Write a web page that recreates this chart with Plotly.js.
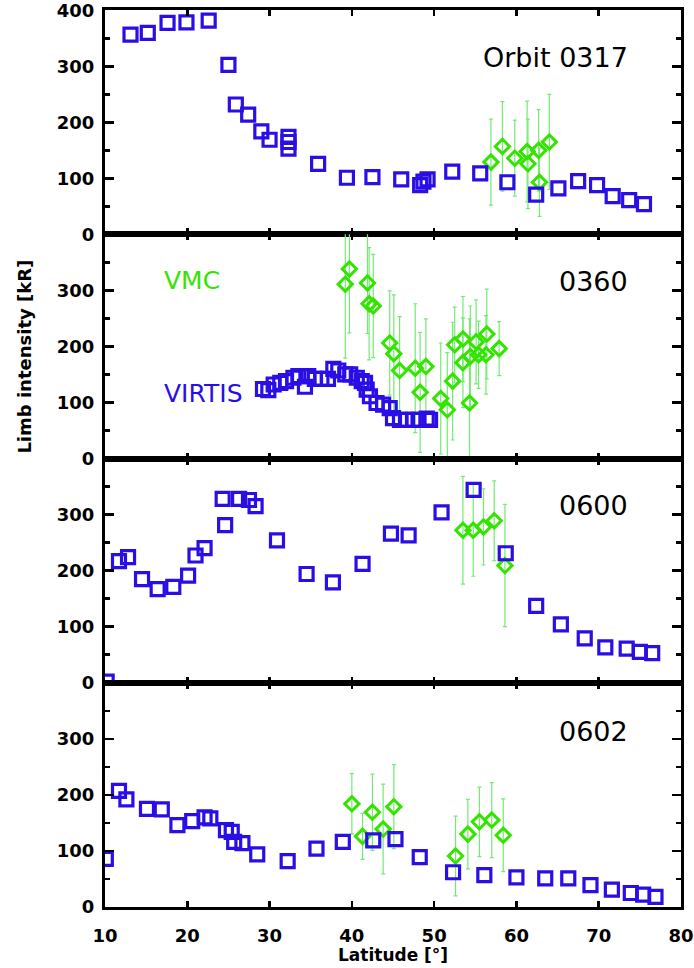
<!DOCTYPE html>
<html>
<head>
<meta charset="utf-8">
<script src="https://cdn.plot.ly/plotly-3.0.1.min.js"></script>
<style>html,body{margin:0;padding:0;background:#fff;}#chart{width:694px;height:968px;}</style>
</head>
<body>
<div id="chart"></div>
<script>
// ---- Orbit 0317 ----
const virtisLat0317 = [13.1,15.2,17.6,19.9,22.6,25.0,25.9,27.4,29.0,30.0,32.3,32.3,32.3,35.9,39.4,42.5,46.0,48.3,48.7,49.2,52.2,55.6,58.9,62.4,65.1,67.5,69.8,71.7,73.7,75.5];
const virtisVal0317 = [357,360,378,379,382,303,232,214,184,169,174,165,153,126,101,102,98,88,94,98,112,109,93,71,82,95,88,68,61,54];
const vmcLat0317 = [56.9,58.3,59.8,61.3,61.4,62.7,62.8,64.0];
const vmcVal0317 = [129,157,136,148,126,150,93,165];
const vmcErr0317 = [77,80,68,90,80,73,61,85];

// ---- Orbit 0360 ----
const virtisLat0360 = [29.2,29.85,30.5,31.3,32.0,32.9,33.5,34.3,34.7,35.5,36.3,37.1,37.75,38.35,39.2,39.8,40.6,41.2,41.6,41.8,42.2,43.0,43.8,44.6,45.0,45.85,46.7,47.5,48.1,49.1,49.5];
const virtisVal0360 = [124,122,132,135,138,144,147,128,147,142,142,142,160,157,150,150,144,138,135,123,111,99,96,90,72,69,69,69,69,71,69];
const vmcLat0360 = [39.2,39.7,41.9,42.1,42.6,44.6,45.1,45.8,47.7,48.3,49.0,50.8,51.6,52.25,52.5,53.5,53.5,54.3,54.4,55.1,55.4,56.4,56.3,57.9];
const vmcVal0360 = [311,338,313,276,272,206,187,157,161,118,164,107,87,138,203,213,171,99,182,208,185,222,185,196];
const vmcErr0360 = [132,114,90,100,92,93,105,96,115,107,85,99,102,105,67,76,80,150,90,75,60,80,70,48];

// ---- Orbit 0600 ----
const virtisLat0600 = [10.2,11.7,12.8,14.5,16.4,18.3,20.1,21.0,22.1,24.3,24.6,26.3,27.5,28.3,30.9,34.5,37.7,41.3,44.75,46.9,50.9,54.8,58.7,62.4,65.4,68.3,70.8,73.4,75.0,76.5];
const virtisVal0600 = [2,217,224,185,167,171,191,227,240,328,281,328,326,315,254,194,179,212,266,263,304,344,231,137,104,79,63,61,55,53];
const vmcLat0600 = [53.5,54.75,56.0,57.3,58.6];
const vmcVal0600 = [272,272,278,289,209];
const vmcErr0600 = [96,82,68,71,109];

// ---- Orbit 0602 ----
const virtisLat0602 = [10.1,11.7,12.6,15.1,16.9,18.8,20.6,22.1,22.8,24.7,25.4,25.7,26.7,28.5,32.2,35.7,38.9,42.6,45.3,48.25,52.3,56.1,60.0,63.5,66.3,69.0,71.6,73.9,75.4,76.9];
const virtisVal0602 = [86,207,192,175,174,146,153,160,158,137,134,116,114,94,82,104,116,119,121,89,62,57,53,51,51,39,31,25,22,18];
const vmcLat0602 = [40.0,41.3,42.5,43.8,45.1,52.6,54.1,55.5,57.0,58.4];
const vmcVal0602 = [184,126,169,139,179,91,130,152,155,128];
const vmcErr0602 = [54,41,68,80,75,71,62,62,67,65];

const orbitLabels = ["Orbit 0317","0360","0600","0602"];
const xTickVals = [10,20,30,40,50,60,70,80];
const yTickVals = [0,100,200,300];
const yTickValsTop = [0,100,200,300,400];
const yMinorVals = [50,150,250,350];

const panels = [
  {lat: virtisLat0317, val: virtisVal0317, vlat: vmcLat0317, vval: vmcVal0317, verr: vmcErr0317},
  {lat: virtisLat0360, val: virtisVal0360, vlat: vmcLat0360, vval: vmcVal0360, verr: vmcErr0360},
  {lat: virtisLat0600, val: virtisVal0600, vlat: vmcLat0600, vval: vmcVal0600, verr: vmcErr0600},
  {lat: virtisLat0602, val: virtisVal0602, vlat: vmcLat0602, vval: vmcVal0602, verr: vmcErr0602}
];

const BLUE = '#2a0ee6';
const GREEN = '#33e400';
const ERR = '#74ea74';

const traces = [];
panels.forEach((p, i) => {
  const n = i + 1;
  const xa = n === 1 ? 'x' : 'x' + n;
  const ya = n === 1 ? 'y' : 'y' + n;
  traces.push({
    x: p.vlat, y: p.vval, xaxis: xa, yaxis: ya, type: 'scatter', mode: 'markers',
    marker: {symbol: 'diamond-open', size: 11, color: GREEN, line: {width: 3, color: GREEN}},
    error_y: {type: 'data', array: p.verr, visible: true, color: ERR, thickness: 1.2, width: 2},
    showlegend: false, hoverinfo: 'x+y'
  });
  traces.push({
    x: p.lat, y: p.val, xaxis: xa, yaxis: ya, type: 'scatter', mode: 'markers',
    marker: {symbol: 'square-open', size: 13, color: BLUE, line: {width: 3.2, color: BLUE}},
    showlegend: false, hoverinfo: 'x+y'
  });
});

const tickFont = {family: 'DejaVu Sans', size: 18, weight: 700, color: '#000'};
const layout = {
  width: 694, height: 968,
  margin: {l: 105, r: 13, t: 10, b: 61},
  paper_bgcolor: '#fff', plot_bgcolor: '#fff',
  showlegend: false,
  annotations: []
};
const doms = [[0.75,1],[0.5,0.75],[0.25,0.5],[0,0.25]];
for (let i = 0; i < 4; i++) {
  const n = i + 1;
  const xk = n === 1 ? 'xaxis' : 'xaxis' + n;
  const yk = n === 1 ? 'yaxis' : 'yaxis' + n;
  const ya = n === 1 ? 'y' : 'y' + n;
  const xa = n === 1 ? 'x' : 'x' + n;
  layout[xk] = {
    domain: [0,1], anchor: ya, range: [10,80], tickvals: xTickVals,
    showticklabels: n === 4, tickfont: tickFont, ticklabelstandoff: 10,
    ticks: 'inside', ticklen: 6, tickwidth: 2.5, tickcolor: '#000',
    showline: true, linewidth: 3, linecolor: '#000', mirror: 'ticks',
    showgrid: false, zeroline: false
  };
  layout[yk] = {
    domain: doms[i], anchor: xa, range: n === 1 ? [0,401] : [0,400],
    tickvals: n === 1 ? yTickValsTop : yTickVals,
    tickfont: tickFont, ticklabelstandoff: 4, ticklabeloverflow: 'allow',
    ticks: 'inside', ticklen: 9, tickwidth: 2.5, tickcolor: '#000',
    minor: {tickvals: yMinorVals, ticks: 'inside', ticklen: 5, tickwidth: 2.5, tickcolor: '#000'},
    showline: true, linewidth: 3, linecolor: '#000', mirror: 'ticks',
    showgrid: false, zeroline: false
  };
}
const labelY = [0.9476, 0.6968, 0.4471, 0.1951];
orbitLabels.forEach((t, i) => {
  layout.annotations.push({
    text: t, xref: 'paper', yref: 'paper', x: 0.9115, y: labelY[i],
    xanchor: 'right', yanchor: 'middle', showarrow: false,
    font: {family: 'DejaVu Sans', size: 27, color: '#000'}
  });
});
layout.annotations.push({
  text: 'VMC', xref: 'paper', yref: 'paper', x: 0.099, y: 0.6979,
  xanchor: 'left', yanchor: 'middle', showarrow: false,
  font: {family: 'DejaVu Sans', size: 25, color: GREEN}
});
layout.annotations.push({
  text: 'VIRTIS', xref: 'paper', yref: 'paper', x: 0.099, y: 0.573,
  xanchor: 'left', yanchor: 'middle', showarrow: false,
  font: {family: 'DejaVu Sans', size: 25, color: BLUE}
});
layout.annotations.push({
  text: 'Limb intensity [kR]', xref: 'paper', yref: 'paper', x: -0.14, y: 0.614,
  xanchor: 'center', yanchor: 'middle', textangle: -90, showarrow: false,
  font: {family: 'DejaVu Sans', size: 18, weight: 700, color: '#000'}
});
layout.annotations.push({
  text: 'Latitude [°]', xref: 'paper', yref: 'paper', x: 0.5, y: -0.0535,
  xanchor: 'center', yanchor: 'middle', showarrow: false,
  font: {family: 'DejaVu Sans', size: 17, weight: 700, color: '#000'}
});

Plotly.newPlot('chart', traces, layout, {staticPlot: true, displayModeBar: false});
</script>
</body>
</html>
